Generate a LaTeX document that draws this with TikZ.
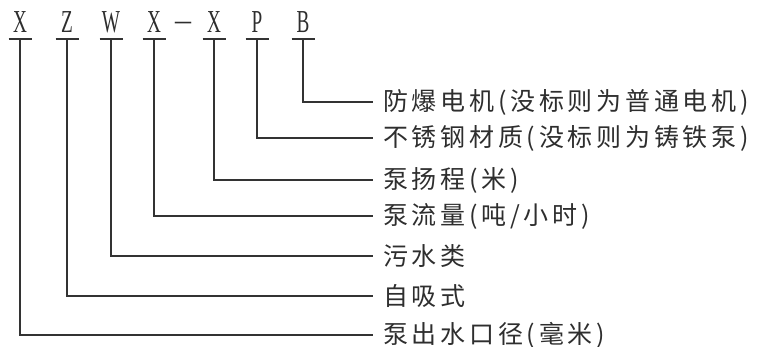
\documentclass[tikz,border=0pt]{standalone}
\usepackage{fontspec}
\setmainfont{Liberation Serif}
\newfontfamily\cjk[LetterSpace=15]{Noto Sans CJK SC}
\newcommand{\narrowltr}[1]{\scalebox{0.6}[1]{#1}}
\begin{document}
\begin{tikzpicture}[x=1pt,y=-1pt,
  letter/.style={font=\fontsize{32}{32}\selectfont, text=black!82, inner sep=0pt, anchor=base},
  desc/.style={font=\cjk\fontsize{25}{25}\selectfont, text=black!82, anchor=west, inner xsep=10pt, inner ysep=0pt},
  conn/.style={draw=black!80, line width=1.1pt},
  uline/.style={draw=black!80, line width=1.2pt}]
\useasboundingbox (0,0) rectangle (761,346);
% code letters
\node[letter] (l1) at (20,32) {\narrowltr{X}};
\node[letter] (l2) at (67,32) {\narrowltr{Z}};
\node[letter] (l3) at (111,32) {\narrowltr{W}};
\node[letter] (l4) at (154,32) {\narrowltr{X}};
\node[letter] (dash) at (183,30) {–};
\node[letter] (l5) at (214,32) {\narrowltr{X}};
\node[letter] (l6) at (257,32) {\narrowltr{P}};
\node[letter] (l7) at (303,32) {\narrowltr{B}};
% descriptions
\node[desc] (t7) at (373,102) {防爆电机(没标则为普通电机)};
\node[desc] (t6) at (373,138) {不锈钢材质(没标则为铸铁泵)};
\node[desc] (t5) at (373,180) {泵扬程(米)};
\node[desc] (t4) at (373,216) {泵流量(吨/小时)};
\node[desc] (t3) at (373,256) {污水类};
\node[desc] (t2) at (373,296) {自吸式};
\node[desc] (t1) at (373,335) {泵出水口径(毫米)};
% underlines and connectors
\foreach \i in {1,...,7}{
  \draw[uline] ([xshift=-11.5pt,yshift=-7pt]l\i.base) -- ([xshift=11.5pt,yshift=-7pt]l\i.base);
  \draw[conn] ([yshift=-7pt]l\i.base) |- (t\i.west);
}
\end{tikzpicture}
\end{document}
